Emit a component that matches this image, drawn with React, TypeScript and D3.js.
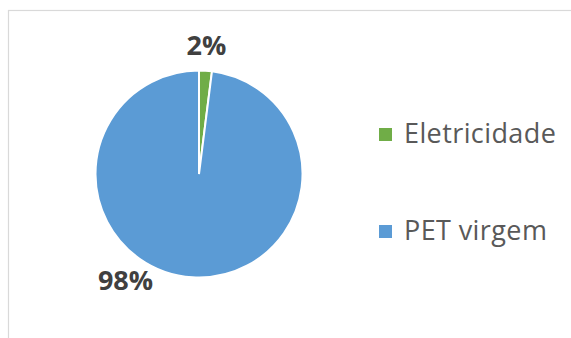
import React from "react";
import * as d3 from "d3";

const categories = ["Eletricidade", "PET virgem"];
const values = [2, 98];
const colors = ["#70AD47", "#5B9BD5"];

export default function App() {
  const W = 571, H = 338;
  const cx = 199, cy = 174, r = 103.5;
  const pie = d3.pie<number>().sort(null).value((d) => d)(values);
  const arc = d3.arc<d3.PieArcDatum<number>>().innerRadius(0).outerRadius(r);
  const total = d3.sum(values);
  const fmt = (v: number) => `${Math.round((v / total) * 100)}%`;
  const labelPos = [
    { x: 206.5, y: 55 },
    { x: 125.5, y: 290 },
  ];
  return (
    <svg width={W} height={H} style={{ position: "absolute", left: 0, top: 0 }}
      fontFamily="'Open Sans', sans-serif">
      <rect x={0} y={0} width={W} height={H} fill="#fff" />
      <rect x={8.5} y={10.5} width={W + 20} height={H + 20} fill="#fff" stroke="#d9d9d9" strokeWidth={1.2} />
      <g transform={`translate(${cx},${cy})`}>
        {pie.map((p, i) => (
          <path key={i} d={arc(p) || ""} fill={colors[i]} stroke="#fff" strokeWidth={2} />
        ))}
      </g>
      {pie.map((p, i) => (
        <text key={i} x={labelPos[i].x} y={labelPos[i].y} textAnchor="middle"
          fontSize={27} fontWeight="bold" fill="#404040">{fmt(p.data)}</text>
      ))}
      {categories.map((c, i) => (
        <g key={c} transform={`translate(379,${128 + i * 97})`}>
          <rect x={0} y={0} width={13} height={13} fill={colors[i]} />
          <text x={25} y={15} fontSize={27} letterSpacing={0.4} fill="#595959">{c}</text>
        </g>
      ))}
    </svg>
  );
}
